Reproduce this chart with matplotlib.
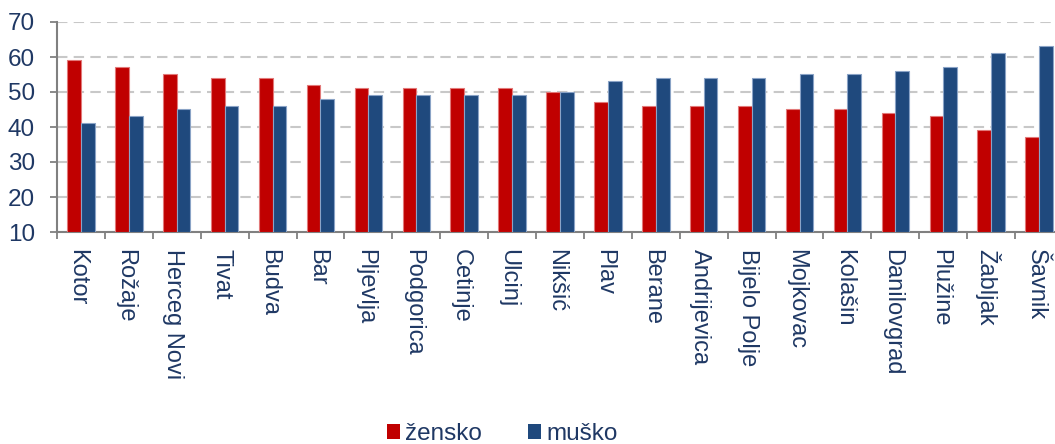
import matplotlib
matplotlib.use("Agg")
import matplotlib.pyplot as plt
import matplotlib.transforms as mtransforms
import numpy as np
from matplotlib.ticker import FixedLocator

plt.rcParams['font.family'] = ['Liberation Sans', 'DejaVu Sans']

categories = ["Kotor", "Rožaje", "Herceg Novi", "Tivat", "Budva", "Bar", "Pljevlja",
              "Podgorica", "Cetinje", "Ulcinj", "Nikšić", "Plav", "Berane", "Andrijevica",
              "Bijelo Polje", "Mojkovac", "Kolašin", "Danilovgrad", "Plužine", "Žabljak", "Šavnik"]
zensko = [59, 57, 55, 54, 54, 52, 51, 51, 51, 51, 50, 47, 46, 46, 46, 45, 45, 44, 43, 39, 37]
musko = [41, 43, 45, 46, 46, 48, 49, 49, 49, 49, 50, 53, 54, 54, 54, 55, 55, 56, 57, 61, 63]
series_names = ["žensko", "muško"]
yticks = [10, 20, 30, 40, 50, 60, 70]

text_color = "#1F3864"
red = "#C00000"
blue = "#1F497D"

fig = plt.figure(figsize=(10.55, 4.44), dpi=100)
ax = fig.add_axes([57/1055, 1 - 232/444, (1063 - 57)/1055, 210/444])

x = np.arange(len(categories))
w = 0.286
ax.bar(x - w/2, np.array(zensko) - 10, w, bottom=10, color=red, edgecolor="#E27979",
       linewidth=0.8, label=series_names[0], zorder=3)
ax.bar(x + w/2, np.array(musko) - 10, w, bottom=10, color=blue, edgecolor="#8AA3C6",
       linewidth=0.8, label=series_names[1], zorder=3)

ax.set_xlim(-0.5, len(categories) - 0.5)
ax.set_ylim(10, 70)
ax.set_yticks(yticks)
ax.set_yticklabels([str(v) for v in yticks])
ax.yaxis.grid(True, color="#C8C8C8", linestyle=(0, (5, 3)), linewidth=1.5, zorder=0)

ax.set_xticks(x)
ax.set_xticklabels(categories, rotation=270, ha="center", va="top")
ax.xaxis.set_minor_locator(FixedLocator(np.arange(-0.5, len(categories), 1)))
ax.tick_params(axis="x", which="major", length=0, pad=12, labelsize=17, labelcolor=text_color)
ax.tick_params(axis="x", which="minor", length=5, width=1.3, color="#808080", direction="out")
ax.tick_params(axis="y", which="major", length=5, width=1.3, color="#808080", pad=11,
               labelsize=17.5, labelcolor=text_color)
offset = mtransforms.ScaledTranslation(-3.5/100, 0, fig.dpi_scale_trans)
for lbl in ax.get_xticklabels():
    lbl.set_transform(lbl.get_transform() + offset)

for s in ["top", "right"]:
    ax.spines[s].set_visible(False)
for s in ["left", "bottom"]:
    ax.spines[s].set_color("#808080")
    ax.spines[s].set_linewidth(1.5)
ax.set_axisbelow(True)

handles, labels = ax.get_legend_handles_labels()
leg = fig.legend(handles, labels, loc="center", bbox_to_anchor=(502/1055, 1 - 434/444),
                 ncol=2, frameon=False, fontsize=17.5, handlelength=0.55, handleheight=0.55,
                 handletextpad=0.2, columnspacing=1.9, borderaxespad=0)
for t in leg.get_texts():
    t.set_color(text_color)
for h in leg.legend_handles:
    h.set_linewidth(0)

fig.savefig("out.png", dpi=100)
